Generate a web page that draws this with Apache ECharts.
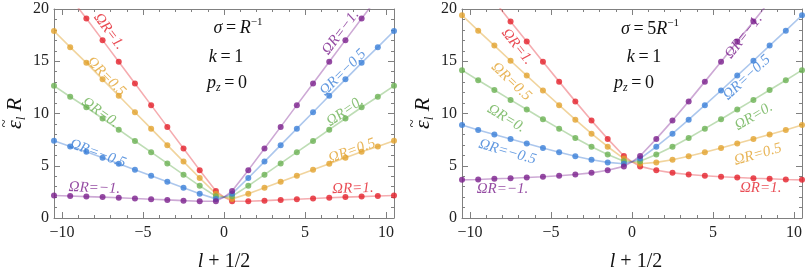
<!DOCTYPE html>
<html><head><meta charset="utf-8">
<script src="https://cdn.jsdelivr.net/npm/echarts@6/dist/echarts.min.js"></script>
<style>html,body{margin:0;padding:0;background:#fff}#c{width:805px;height:275px}</style>
</head><body><div id="c"></div>
<script>
// l + 1/2 sample positions
const X_VALUES = [-10.5,-9.5,-8.5,-7.5,-6.5,-5.5,-4.5,-3.5,-2.5,-1.5,-0.5,0,0.5,1.5,2.5,3.5,4.5,5.5,6.5,7.5,8.5,9.5,10.5];
const OMEGA_NAMES = ['1.','0.5','0.','−0.5','−1.'];

// Left panel: sigma = R^-1
const L_RED = [23.15,21.1,19.1,17.02,14.95,12.87,10.8,8.72,6.65,4.58,2.58,2.0,1.6,1.6,1.66,1.73,1.8,1.87,1.94,2.0,2.05,2.1,2.15];
const L_YEL = [17.9,16.35,14.85,13.27,11.7,10.12,8.55,6.97,5.4,3.83,2.33,2.0,1.83,2.33,2.9,3.47,4.05,4.62,5.2,5.77,6.35,6.85,7.4];
const L_GRN = [12.65,11.6,10.6,9.52,8.45,7.37,6.3,5.22,4.15,3.08,2.08,2.0,2.08,3.08,4.15,5.22,6.3,7.37,8.45,9.52,10.6,11.6,12.65];
const L_BLU = [7.4,6.85,6.35,5.77,5.2,4.62,4.05,3.47,2.9,2.33,1.83,2.0,2.33,3.83,5.4,6.97,8.55,10.12,11.7,13.27,14.85,16.35,17.9];
const L_PUR = [2.15,2.1,2.05,2.0,1.94,1.87,1.8,1.73,1.66,1.6,1.6,2.0,2.58,4.58,6.65,8.72,10.8,12.87,14.95,17.02,19.1,21.1,23.15];

// Right panel: sigma = 5R^-1
const R_RED = [24.65,22.68,20.75,18.8,16.88,14.95,13.05,11.16,9.32,7.57,5.94,5.38,4.94,4.57,4.32,4.16,4.05,3.95,3.88,3.8,3.75,3.68,3.65];
const R_YEL = [19.4,17.93,16.5,15.05,13.63,12.2,10.8,9.41,8.07,6.82,5.69,5.38,5.19,5.32,5.57,5.91,6.3,6.7,7.13,7.55,8.0,8.43,8.9];
const R_GRN = [14.15,13.18,12.25,11.3,10.38,9.45,8.55,7.66,6.82,6.07,5.44,5.38,5.44,6.07,6.82,7.66,8.55,9.45,10.38,11.3,12.25,13.18,14.15];
const R_BLU = [8.9,8.43,8.0,7.55,7.13,6.7,6.3,5.91,5.57,5.32,5.19,5.38,5.69,6.82,8.07,9.41,10.8,12.2,13.63,15.05,16.5,17.93,19.4];
const R_PUR = [3.65,3.68,3.75,3.8,3.88,3.95,4.05,4.16,4.32,4.57,4.94,5.38,5.94,7.57,9.32,11.16,13.05,14.95,16.88,18.8,20.75,22.68,24.65];

// Ticks
const X_MAJOR = [-10,-5,0,5,10];
const X_MINOR = [-10,-9,-8,-7,-6,-5,-4,-3,-2,-1,0,1,2,3,4,5,6,7,8,9,10];

// Curve label placements (data coords)
const L_LABEL_SERIES = [0,1,2,3,4,4,3,2,1,0];
const L_LABEL_X = [-7.1,-7.28,-7.65,-7.8,-8.0,7.2,7.35,7.47,7.9,7.96];
const L_LABEL_Y = [17.85,13.54,10.1,6.17,2.87,17.75,13.92,10.19,6.41,2.82];
const L_LABEL_ROT = [-53,-45,-35,-20,-2,53,45,35,20,2];
const R_LABEL_SERIES = [0,1,2,3,4,4,3,2,1,0];
const R_LABEL_X = [-7.09,-7.46,-7.77,-7.7,-8.0,6.9,7.09,7.52,7.77,7.95];
const R_LABEL_Y = [16.41,13.06,9.52,6.32,2.73,17.37,13.44,9.71,6.08,2.82];
const R_LABEL_ROT = [-52,-43,-31,-16,0,52,43,31,16,0];

const DOT_COLORS = ['#e3202b','#e2a22e','#6cb254','#3b7fd8','#7b1f8c'];
const LINE_COLORS = ['rgba(232,70,80,0.45)','rgba(228,170,60,0.5)','rgba(110,180,90,0.45)','rgba(70,130,215,0.45)','rgba(130,40,150,0.4)'];
const FRAME = '#808080';
const SERIF = "'Liberation Serif','DejaVu Serif',serif";

const chart = echarts.init(document.getElementById('c'), null, {renderer:'canvas'});

function fmt(v){ return String(v).replace('-', '\u2212'); }

const xAxes = [], yAxes = [], series = [];
[0,1].forEach(g => {
  const common = {gridIndex:g, type:'value', min:-10.5, max:10.5, splitLine:{show:false}};
  xAxes.push(Object.assign({}, common, {position:'bottom',
    axisLine:{show:true, onZero:false, lineStyle:{color:FRAME, width:1}},
    axisTick:{show:true, inside:true, length:6, customValues:X_MAJOR, lineStyle:{color:FRAME}},
    axisLabel:{show:true, customValues:X_MAJOR, formatter:fmt, fontFamily:SERIF, fontSize:16, color:'#222', margin:7}}));
  xAxes.push(Object.assign({}, common, {position:'bottom',
    axisLine:{show:false, onZero:false},
    axisTick:{show:true, inside:true, length:3, customValues:X_MINOR, lineStyle:{color:FRAME}},
    axisLabel:{show:false}}));
  xAxes.push(Object.assign({}, common, {position:'top',
    axisLine:{show:true, onZero:false, lineStyle:{color:FRAME, width:1}},
    axisTick:{show:true, inside:true, length:6, customValues:X_MAJOR, lineStyle:{color:FRAME}},
    axisLabel:{show:false}}));
  xAxes.push(Object.assign({}, common, {position:'top',
    axisLine:{show:false, onZero:false},
    axisTick:{show:true, inside:true, length:3, customValues:X_MINOR, lineStyle:{color:FRAME}},
    axisLabel:{show:false}}));
  const yc = {gridIndex:g, type:'value', min:0, max:20, interval:5, splitLine:{show:false}, minorSplitLine:{show:false},
    axisLine:{show:true, onZero:false, lineStyle:{color:FRAME, width:1}},
    axisTick:{show:true, inside:true, length:6, lineStyle:{color:FRAME}},
    minorTick:{show:true, splitNumber:5, length:3, lineStyle:{color:FRAME}}};
  yAxes.push(Object.assign({}, yc, {position:'left',
    axisLabel:{show:true, fontFamily:SERIF, fontSize:16, color:'#222', margin:5}}));
  yAxes.push(Object.assign({}, yc, {position:'right', axisLabel:{show:false}}));
});

function addPanel(g, sets, lx, ly, lrot, lser) {
  sets.forEach((vals, k) => {
    const pts = X_VALUES.map((x,i) => [x, vals[i]]);
    series.push({type:'line', xAxisIndex:g*4, yAxisIndex:g*2, data:pts, showSymbol:false, symbol:'none',
      clip:true, silent:true, z:2, lineStyle:{color:LINE_COLORS[k], width:1.6}, animation:false});
    series.push({type:'scatter', xAxisIndex:g*4, yAxisIndex:g*2, data:pts.filter(p => p[0] !== 0),
      symbolSize:6, clip:true, silent:true, z:3, itemStyle:{color:DOT_COLORS[k]}, animation:false});
  });
  series.push({type:'scatter', xAxisIndex:g*4, yAxisIndex:g*2, symbolSize:0, silent:true, z:4, animation:false, clip:false,
    data: lx.map((x,i) => ({name:'ΩR=' + OMEGA_NAMES[lser[i]], value:[x, ly[i]],
      label:{rotate:lrot[i], color:DOT_COLORS[lser[i]]}})),
    label:{show:true, position:'inside', formatter:p => p.name, fontFamily:SERIF, fontStyle:'italic', fontSize:15,
      align:'center', verticalAlign:'middle'},
    labelLayout:{hideOverlap:false}});
}
addPanel(0, [L_RED,L_YEL,L_GRN,L_BLU,L_PUR], L_LABEL_X, L_LABEL_Y, L_LABEL_ROT, L_LABEL_SERIES);
addPanel(1, [R_RED,R_YEL,R_GRN,R_BLU,R_PUR], R_LABEL_X, R_LABEL_Y, R_LABEL_ROT, R_LABEL_SERIES);

const baseRich = {
  i:{fontFamily:SERIF, fontStyle:'italic', fontSize:18, fill:'#111', lineHeight:24},
  n:{fontFamily:SERIF, fontSize:18, fill:'#111', lineHeight:24},
  sup:{fontFamily:SERIF, fontSize:11, fill:'#111', verticalAlign:'top', lineHeight:24, padding:[1,0,0,0]},
  sub:{fontFamily:SERIF, fontStyle:'italic', fontSize:12, fill:'#111', verticalAlign:'bottom', lineHeight:24, padding:[0,0,1,0]}
};
function ann(x, y, text) {
  return {type:'text', x:x, y:y, z:10, silent:true,
    style:{text:text, rich:baseRich, align:'center', verticalAlign:'middle', fontFamily:SERIF, fontSize:18, fill:'#111'}};
}
const graphics = [
  ann(238, 28, '{i|σ}{n|\u2009=\u2009}{i|R}{sup|−1}'),
  ann(226, 57, '{i|k}{n|\u2009=\u20091}'),
  ann(227, 83, '{i|p}{sub|z}{n|\u2009=\u20090}'),
  ann(650, 29, '{i|σ}{n|\u2009=\u20095}{i|R}{sup|−1}'),
  ann(644, 57, '{i|k}{n|\u2009=\u20091}'),
  ann(634, 83, '{i|p}{sub|z}{n|\u2009=\u20090}'),
];
const titleRich = {
  e:{fontFamily:SERIF, fontStyle:'italic', fontSize:22, fill:'#111', lineHeight:26},
  s:{fontFamily:SERIF, fontStyle:'italic', fontSize:13, fill:'#111', verticalAlign:'bottom', lineHeight:26},
  r:{fontFamily:SERIF, fontStyle:'italic', fontSize:22, fill:'#111', lineHeight:26}
};
[[15,108],[423,108]].forEach(p => graphics.push({type:'group', x:p[0], y:p[1], rotation:Math.PI/2, silent:true,
  children:[
    {type:'text', x:-21, y:0, style:{text:'{e|ε}{s|l}{r| R}', rich:titleRich, align:'left', verticalAlign:'middle'}},
    {type:'text', x:-15.5, y:-10, style:{text:'~', fontFamily:SERIF, fontSize:15, fill:'#111', align:'center', verticalAlign:'middle'}}
  ]}));
const xRich = {
  i:{fontFamily:SERIF, fontStyle:'italic', fontSize:20, fill:'#111'},
  n:{fontFamily:SERIF, fontSize:20, fill:'#111'}
};
[[224,262],[636,262]].forEach(p => graphics.push({type:'text', x:p[0], y:p[1], silent:true,
  style:{text:'{i|l}{n| + 1/2}', rich:xRich, align:'center', verticalAlign:'middle'}}));

chart.setOption({
  animation:false,
  backgroundColor:'#ffffff',
  grid:[{left:54, top:9, width:340, height:209, containLabel:false},
        {left:462, top:9, width:340, height:209, containLabel:false}],
  xAxis:xAxes, yAxis:yAxes, series:series, graphic:graphics
});
</script></body></html>
